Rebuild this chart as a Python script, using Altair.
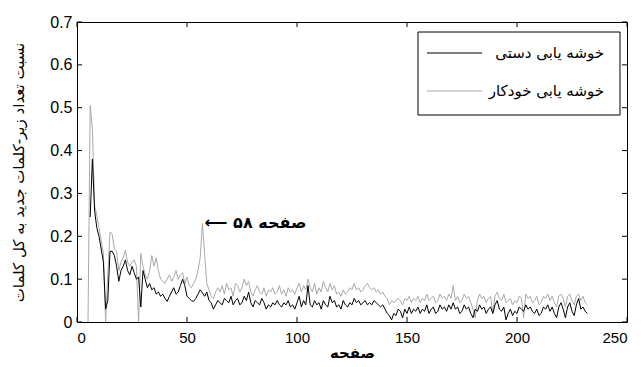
import altair as alt
import pandas as pd

# ---------------- data ----------------
series_names = ["خوشه یابی دستی", "خوشه یابی خودکار"]

manual_pages = list(range(6, 233))
manual_vals = [
    0.245, 0.38, 0.26, 0.22, 0.20, 0.17, 0.14, 0.03, 0.05, 0.165,
    0.165, 0.155, 0.13, 0.095, 0.12, 0.13, 0.145, 0.12, 0.11, 0.13,
    0.115, 0.10, 0.105, 0.035, 0.12, 0.10, 0.08, 0.09, 0.075, 0.08,
    0.065, 0.07, 0.06, 0.065, 0.055, 0.048, 0.06, 0.07, 0.08, 0.065,
    0.07, 0.085, 0.10, 0.085, 0.06, 0.055, 0.05, 0.048, 0.055, 0.065,
    0.075, 0.068, 0.06, 0.07, 0.05, 0.045, 0.03, 0.04, 0.05, 0.045,
    0.04, 0.055, 0.05, 0.045, 0.06, 0.04, 0.05, 0.055, 0.04, 0.045,
    0.06, 0.05, 0.07, 0.045, 0.035, 0.05, 0.045, 0.04, 0.055, 0.045,
    0.03, 0.04, 0.035, 0.045, 0.04, 0.05, 0.04, 0.035, 0.045, 0.04,
    0.05, 0.035, 0.04, 0.03, 0.045, 0.06, 0.035, 0.05, 0.04, 0.085,
    0.04, 0.035, 0.05, 0.04, 0.045, 0.03, 0.05, 0.04, 0.035, 0.06,
    0.045, 0.05, 0.035, 0.04, 0.03, 0.05, 0.04, 0.035, 0.045, 0.04,
    0.055, 0.045, 0.05, 0.04, 0.045, 0.05, 0.04, 0.045, 0.04, 0.05,
    0.045, 0.04, 0.035, 0.04, 0.03, 0.02, 0.015, 0.005, 0.02, 0.015,
    0.03, 0.025, 0.01, 0.03, 0.02, 0.035, 0.02, 0.03, 0.025, 0.035,
    0.02, 0.03, 0.025, 0.04, 0.02, 0.03, 0.035, 0.02, 0.025, 0.04,
    0.03, 0.035, 0.025, 0.04, 0.03, 0.045, 0.03, 0.035, 0.02, 0.025,
    0.04, 0.03, 0.035, 0.02, 0.01, 0.03, 0.025, 0.04, 0.03, 0.035,
    0.02, 0.03, 0.035, 0.02, 0.04, 0.05, 0.03, 0.025, 0.035, 0.005,
    0.02, 0.03, 0.015, 0.025, 0.02, 0.035, 0.03, 0.025, 0.04, 0.03,
    0.035, 0.025, 0.02, 0.03, 0.015, 0.02, 0.035, 0.03, 0.04, 0.025,
    0.035, 0.02, 0.01, 0.035, 0.045, 0.03, 0.01, 0.035, 0.045, 0.025,
    0.015, 0.04, 0.055, 0.03, 0.035, 0.025, 0.02,
]

auto_pages = list(range(5, 233))
auto_vals = [
    0.0, 0.505, 0.45, 0.27, 0.25, 0.22, 0.19, 0.16, 0.0, 0.11,
    0.21, 0.205, 0.17, 0.165, 0.12, 0.14, 0.15, 0.168, 0.14, 0.13,
    0.14, 0.145, 0.13, 0.0, 0.16, 0.13, 0.11, 0.10, 0.12, 0.155,
    0.13, 0.15, 0.12, 0.10, 0.095, 0.09, 0.10, 0.11, 0.095, 0.105,
    0.12, 0.10, 0.11, 0.115, 0.09, 0.105, 0.085, 0.08, 0.09, 0.10,
    0.12, 0.15, 0.23, 0.16, 0.09, 0.075, 0.06, 0.055, 0.07, 0.08,
    0.07, 0.085, 0.065, 0.09, 0.075, 0.08, 0.06, 0.09, 0.085, 0.07,
    0.08, 0.10, 0.085, 0.095, 0.07, 0.06, 0.075, 0.085, 0.07, 0.065,
    0.08, 0.06, 0.075, 0.07, 0.08, 0.065, 0.07, 0.085, 0.065, 0.075,
    0.06, 0.08, 0.07, 0.075, 0.065, 0.08, 0.09, 0.07, 0.085, 0.075,
    0.10, 0.08, 0.07, 0.09, 0.065, 0.08, 0.07, 0.095, 0.08, 0.07,
    0.09, 0.075, 0.085, 0.065, 0.07, 0.06, 0.075, 0.065, 0.07, 0.08,
    0.075, 0.09, 0.075, 0.08, 0.07, 0.075, 0.085, 0.09, 0.08, 0.075,
    0.08, 0.07, 0.075, 0.065, 0.07, 0.06, 0.055, 0.04, 0.05, 0.045,
    0.05, 0.055, 0.05, 0.04, 0.055, 0.05, 0.06, 0.045, 0.055, 0.05,
    0.06, 0.045, 0.055, 0.05, 0.065, 0.05, 0.055, 0.06, 0.045, 0.05,
    0.065, 0.055, 0.06, 0.05, 0.065, 0.055, 0.085, 0.05, 0.06, 0.045,
    0.05, 0.065, 0.055, 0.06, 0.045, 0.03, 0.01, 0.05, 0.065, 0.055,
    0.06, 0.045, 0.055, 0.06, 0.02, 0.06, 0.07, 0.055, 0.05, 0.065,
    0.045, 0.05, 0.055, 0.04, 0.05, 0.045, 0.06, 0.055, 0.01, 0.065,
    0.055, 0.06, 0.045, 0.05, 0.06, 0.04, 0.045, 0.06, 0.055, 0.065,
    0.05, 0.06, 0.045, 0.035, 0.06, 0.065, 0.055, 0.035, 0.06, 0.065,
    0.05, 0.04, 0.06, 0.065, 0.05, 0.06, 0.045, 0.04,
]

x_ticks = [0, 50, 100, 150, 200, 250]
y_ticks = [0, 0.1, 0.2, 0.3, 0.4, 0.5, 0.6, 0.7]

annot_page = [58]
annot_ratio = [0.23]
annot_text = ["⟵ صفحه ۵۸"]

x_title = "صفحه"
y_title = "نسبت تعداد زیر-کلمات جدید به کل کلمات"

# ---------------- build ----------------
W, H = 550, 300
FONT = "Liberation Sans, DejaVu Sans, sans-serif"
AFONT = "DejaVu Sans, sans-serif"
GRAY = "#a9a9a9"

df_manual = pd.DataFrame({"page": manual_pages, "ratio": manual_vals})
df_auto = pd.DataFrame({"page": auto_pages, "ratio": auto_vals})
df_xt = pd.DataFrame({"page": x_ticks})
df_yt = pd.DataFrame({"ratio": y_ticks})
df_ann = pd.DataFrame({"page": annot_page, "ratio": annot_ratio, "label": annot_text})
one = pd.DataFrame({"k": [0]})

xs = alt.Scale(domain=[0, 250], nice=False, zero=False)
ys = alt.Scale(domain=[0, 0.7], nice=False)

x_axis = alt.Axis(values=x_ticks, ticks=False, domain=False, grid=False,
                  labelFont=FONT, labelFontSize=15, labelColor="black",
                  labelPadding=8, title=x_title, titleFont=AFONT,
                  titleFontSize=15, titleFontWeight="bold", titleColor="black",
                  titlePadding=0)
y_axis = alt.Axis(values=y_ticks, format=".1~f", ticks=False, domain=False,
                  grid=False, labelFont=FONT, labelFontSize=16,
                  labelColor="black", labelPadding=5, title=y_title,
                  titleFont=AFONT, titleFontSize=15, titleFontWeight="normal",
                  titleColor="black", titlePadding=23)

X = alt.X("page:Q", scale=xs, axis=x_axis)
Y = alt.Y("ratio:Q", scale=ys, axis=y_axis)

auto_line = alt.Chart(df_auto).mark_line(color=GRAY, strokeWidth=1).encode(x=X, y=Y)
manual_line = alt.Chart(df_manual).mark_line(color="black", strokeWidth=1).encode(x=X, y=Y)

tick_style = dict(color="black", strokeWidth=1)
tick_bottom = alt.Chart(df_xt).mark_rule(**tick_style).encode(
    x=X, y=alt.value(H), y2=alt.value(H - 5))
tick_top = alt.Chart(df_xt).mark_rule(**tick_style).encode(
    x=X, y=alt.value(0), y2=alt.value(5))
tick_left = alt.Chart(df_yt).mark_rule(**tick_style).encode(
    y=Y, x=alt.value(0), x2=alt.value(5))
tick_right = alt.Chart(df_yt).mark_rule(**tick_style).encode(
    y=Y, x=alt.value(W), x2=alt.value(W - 5))

annot = alt.Chart(df_ann).mark_text(
    align="left", baseline="middle", font=AFONT, fontSize=16,
    fontWeight="bold", color="black", dx=0,
).encode(x=X, y=Y, text="label:N")

# legend box (decoration)
leg_box = alt.Chart(one).mark_rect(fill="white", stroke="black", strokeWidth=1).encode(
    x=alt.value(341), x2=alt.value(543), y=alt.value(10), y2=alt.value(93))
leg_rule1 = alt.Chart(one).mark_rule(color="black", strokeWidth=1).encode(
    x=alt.value(350), x2=alt.value(405), y=alt.value(31))
leg_rule2 = alt.Chart(one).mark_rule(color=GRAY, strokeWidth=1).encode(
    x=alt.value(350), x2=alt.value(405), y=alt.value(69))
leg_text1 = alt.Chart(one).mark_text(
    align="right", baseline="middle", font=AFONT, fontSize=15, color="black",
    text=series_names[0]).encode(x=alt.value(527), y=alt.value(31))
leg_text2 = alt.Chart(one).mark_text(
    align="right", baseline="middle", font=AFONT, fontSize=15, color="black",
    text=series_names[1]).encode(x=alt.value(527), y=alt.value(69))

chart = alt.layer(
    auto_line, manual_line, tick_bottom, tick_top, tick_left, tick_right,
    annot, leg_box, leg_rule1, leg_rule2, leg_text1, leg_text2,
).properties(
    width=W, height=H,
    padding={"left": 69, "top": 14, "right": 7, "bottom": 45},
    autosize=alt.AutoSizeParams(type="none"),
    background="white",
).configure_view(stroke="black", strokeWidth=1)

chart.save("out.html", embed_options={"renderer": "svg", "actions": False})
